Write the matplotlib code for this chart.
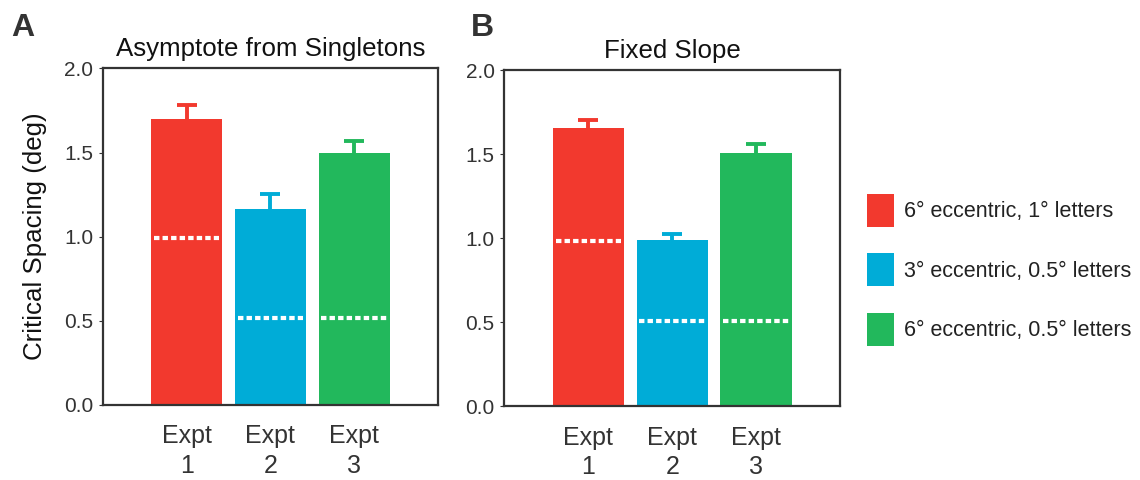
import numpy as np
import matplotlib
matplotlib.use('Agg')
import matplotlib.pyplot as plt

plt.rcParams['font.family'] = ['Liberation Sans', 'DejaVu Sans']

expts = ['Expt\n1', 'Expt\n2', 'Expt\n3']
legend_labels = ['6° eccentric, 1° letters',
                 '3° eccentric, 0.5° letters',
                 '6° eccentric, 0.5° letters']
colors = ['#f2392e', '#00acd7', '#22b85c']

# panel A: asymptote from singletons
a_vals = [1.70, 1.165, 1.50]
a_err = [0.08, 0.09, 0.07]
a_ref = [0.99, 0.515, 0.515]

# panel B: fixed slope
b_vals = [1.655, 0.99, 1.505]
b_err = [0.05, 0.035, 0.055]
b_ref = [0.985, 0.51, 0.51]

fig = plt.figure(figsize=(11.4, 4.8), dpi=100)
axA = fig.add_axes([0.0904, 0.1563, 0.2936, 0.7013])
axB = fig.add_axes([0.4424, 0.1535, 0.2945, 0.7000])


def panel(ax, vals, err, ref, title):
    x = np.arange(1, len(vals) + 1)
    bars = ax.bar(x, vals, width=0.85, color=colors, edgecolor='none', zorder=2)
    for xi, v, e, c in zip(x, vals, err, colors):
        eb = ax.errorbar(xi, v, yerr=[[0], [e]], color=c, elinewidth=2.8,
                         capsize=7, capthick=2.8, zorder=1)
        # only the upper cap
        eb[1][0].set_visible(False)
    ax.hlines(ref, x - 0.39, x + 0.39, colors='white', linewidth=3.0,
              linestyles=(0, (1.3, 0.75)), zorder=3)
    ax.set_xlim(0, 4)
    ax.set_ylim(0, 2.0)
    ax.set_yticks([0.0, 0.5, 1.0, 1.5, 2.0])
    ax.set_yticklabels(['0.0', '0.5', '1.0', '1.5', '2.0'])
    ax.set_xticks(x)
    ax.set_xticklabels(expts, fontsize=18, linespacing=1.3)
    ax.tick_params(axis='x', length=0, pad=14, colors='#333333')
    ax.tick_params(axis='y', length=3, width=0.8, direction='out',
                   labelsize=15, pad=4, colors='#333333')
    for s in ax.spines.values():
        s.set_linewidth(1.6)
        s.set_color('#333333')
    ax.set_title(title, fontsize=18.6, pad=9, color='#111111')
    return bars


bars = panel(axA, a_vals, a_err, a_ref, 'Asymptote from Singletons')
panel(axB, b_vals, b_err, b_ref, 'Fixed Slope')
axA.set_ylabel('Critical Spacing (deg)', fontsize=18.6, labelpad=12, color='#111111')

fig.text(0.010, 0.925, 'A', fontsize=23, fontweight='bold', color='#333333')
fig.text(0.413, 0.925, 'B', fontsize=23, fontweight='bold', color='#333333')

fig.legend(bars, legend_labels, loc='upper left',
           bbox_to_anchor=(866.7 / 1140, 1 - 194 / 480), frameon=False,
           fontsize=15.5, handlelength=1.26, handleheight=1.95,
           handletextpad=0.46, labelspacing=1.25, borderpad=0,
           borderaxespad=0, labelcolor='#222222')

fig.savefig('out.png', dpi=100)
